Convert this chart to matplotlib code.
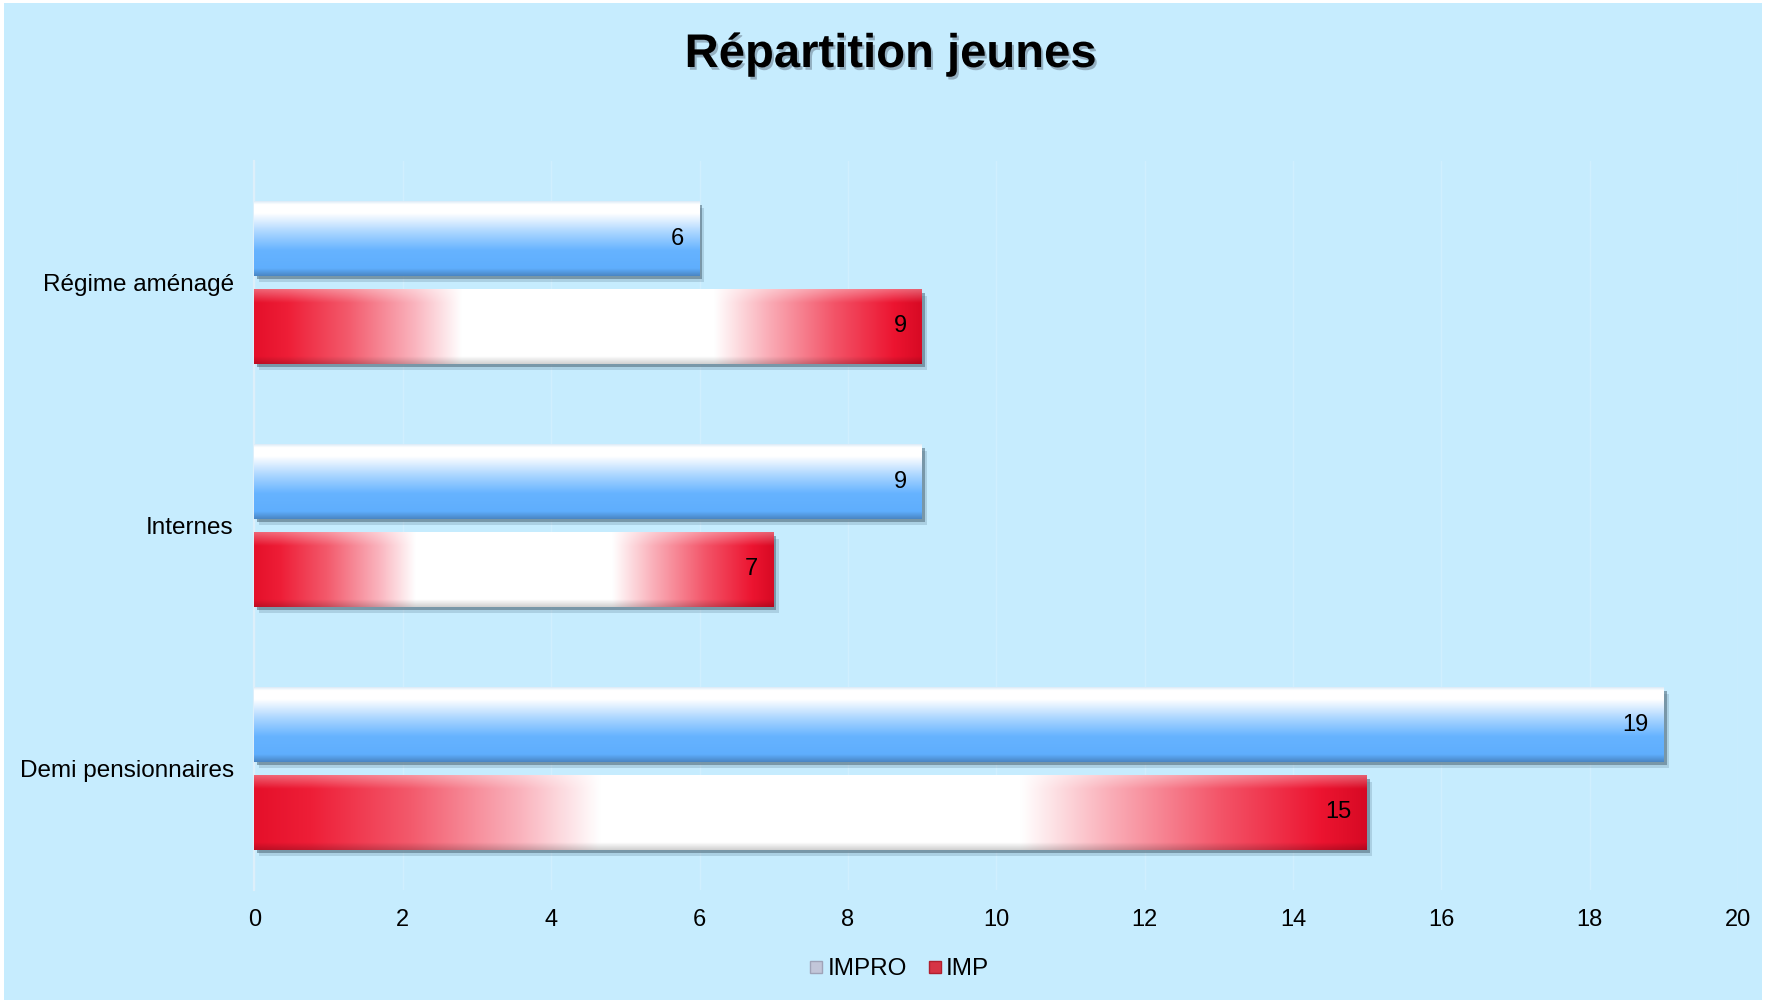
import numpy as np
import matplotlib
matplotlib.use("Agg")
import matplotlib.pyplot as plt
import matplotlib.patheffects as pe
from matplotlib.colors import to_rgb
from matplotlib.lines import Line2D
from matplotlib.patches import Rectangle

# === données ===
categories = ["Demi pensionnaires", "Internes", "Régime aménagé"]
impro = [19, 9, 6]
imp = [15, 7, 9]
series_names = ["IMPRO", "IMP"]
title = "Répartition jeunes"

BG = "#C6ECFE"
plt.rcParams["font.family"] = ["Liberation Sans", "DejaVu Sans"]


def ramp(stops, n):
    # stops: liste (position, couleur) -> tableau n x 3
    pos = [s[0] for s in stops]
    cols = np.array([to_rgb(s[1]) for s in stops])
    t = np.linspace(0, 1, n)
    return np.stack([np.interp(t, pos, cols[:, k]) for k in range(3)], axis=1)


def blue_img(ny=120, nx=60):
    v = ramp([(0.0, "#DDEBF7"), (0.04, "#FFFFFF"), (0.16, "#FFFFFF"),
              (0.42, "#A9D5FF"), (0.66, "#66B3FF"), (0.9, "#5FAEFD"),
              (1.0, "#4A86C4")], ny)
    img = np.repeat(v[:, None, :], nx, axis=1)
    return img


def red_img(ny=120, nx=300):
    h = ramp([(0.0, "#E5102A"), (0.05, "#EE1E37"), (0.14, "#F35A6C"),
              (0.24, "#FAB4BE"), (0.31, "#FFFFFF"), (0.69, "#FFFFFF"),
              (0.77, "#FAAEB8"), (0.87, "#F35468"), (0.96, "#EC1430"),
              (1.0, "#D80A24")], nx)
    img = np.repeat(h[None, :, :], ny, axis=0)
    t = np.linspace(0, 1, ny)[:, None, None]
    light = np.clip(1 - t / 0.18, 0, 1) * 0.35
    img = img + (1 - img) * light
    dark = np.clip((t - 0.9) / 0.1, 0, 1) * 0.18
    img = img * (1 - dark)
    return np.clip(img, 0, 1)


# === figure ===
fig = plt.figure(figsize=(17.66, 10), dpi=100, facecolor="white")
fig.patches.append(Rectangle((4 / 1766, 0), 1 - 8 / 1766, 1 - 3 / 1000,
                             transform=fig.transFigure, facecolor=BG,
                             edgecolor="none", zorder=-10))
ax = fig.add_axes([0.1441, 0.110, 0.9841 - 0.1441, 0.839 - 0.110])
ax.set_facecolor(BG)

y = np.arange(len(categories))
h = 0.305
off = 0.181

shadow = [pe.SimplePatchShadow(offset=(3.5, -4.5), shadow_rgbFace="#5E7F93", alpha=0.25),
          pe.SimplePatchShadow(offset=(2, -2.5), shadow_rgbFace="#4E6878", alpha=0.55),
          pe.Normal()]

bars_impro = ax.barh(y + off, impro, height=h, color="#66B3FF", edgecolor="none",
                     zorder=3, path_effects=shadow)
bars_imp = ax.barh(y - off, imp, height=h, color="#E5102A", edgecolor="none",
                   zorder=3, path_effects=shadow)

for bars, maker in [(bars_impro, blue_img), (bars_imp, red_img)]:
    for p in bars:
        x0, y0, w, hh = p.get_x(), p.get_y(), p.get_width(), p.get_height()
        im = ax.imshow(maker(), extent=[x0, x0 + w, y0, y0 + hh], aspect="auto",
                       interpolation="bilinear", origin="upper", zorder=4)
        im.set_clip_path(p)
        ax.annotate(f"{w:g}", (x0 + w, y0 + hh / 2), xytext=(-11, 0),
                    textcoords="offset points", ha="right", va="center",
                    fontsize=17, color="black", zorder=6)

ax.set_xlim(0, 20)
ax.set_ylim(-0.5, 2.5)
ax.set_xticks(range(0, 21, 2))
ax.set_yticks(y)
ax.set_yticklabels(categories, va="center_baseline")
ax.tick_params(axis="x", length=0, pad=14, labelsize=17)
ax.tick_params(axis="y", length=0, pad=15, labelsize=17.5)
ax.grid(axis="x", color="white", alpha=0.18, linewidth=1, zorder=0)
for s in ["top", "right", "bottom"]:
    ax.spines[s].set_visible(False)
ax.spines["left"].set_color("#DDEFFA")
ax.spines["left"].set_linewidth(1.6)

fig.text(0.5045, 0.945, title, ha="center", va="center", fontsize=34,
         fontweight="bold", color="black",
         path_effects=[pe.withSimplePatchShadow(offset=(1.5, -2), shadow_rgbFace="#556677", alpha=0.45)])

handles = [Line2D([], [], linestyle="none", marker="s", markersize=8,
                  markerfacecolor="#C2C6D9", markeredgecolor="#9FA3B8"),
           Line2D([], [], linestyle="none", marker="s", markersize=8,
                  markerfacecolor="#D63445", markeredgecolor="#B01F2E")]
fig.legend(handles, series_names, loc="center", bbox_to_anchor=(0.509, 0.031),
           ncol=2, frameon=False, fontsize=17.5, handlelength=0.6,
           handletextpad=0.15, columnspacing=0.85)

fig.savefig("out.png", dpi=100, facecolor=fig.get_facecolor())
